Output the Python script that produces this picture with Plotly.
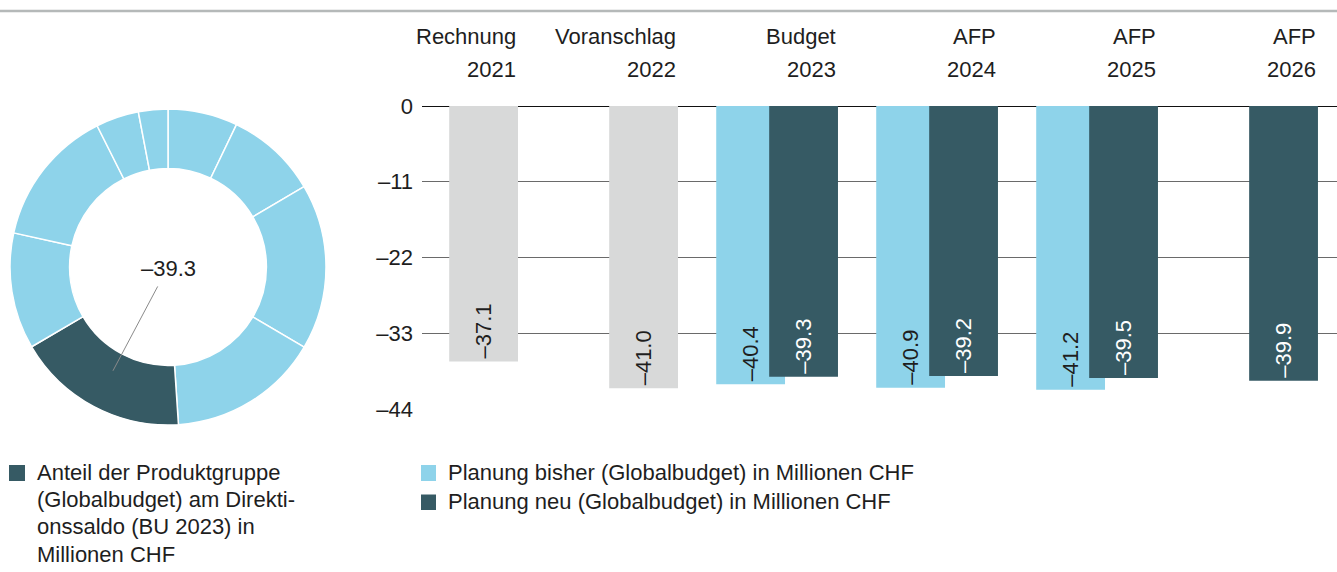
import math
import plotly.graph_objects as go

W, H = 1337, 572

# ---------------- data ----------------
cat_line1 = ["Rechnung", "Voranschlag", "Budget", "AFP", "AFP", "AFP"]
cat_line2 = ["2021", "2022", "2023", "2024", "2025", "2026"]
values_rechnung = [-37.1, -41.0, None, None, None, None]
values_bisher = [None, None, -40.4, -40.9, -41.2, None]
values_neu = [None, None, -39.3, -39.2, -39.5, -39.9]
y_tickvals = [0, -11, -22, -33, -44]
y_ticktext = ["0", "–11", "–22", "–33", "–44"]

donut_values = [15.9, 20.9, 37.8, 34.5, 39.3, 26.5, 31.5, 9.8, 6.7]
donut_highlight = 4
donut_label = "–39.3"

legend_donut_lines = ["Anteil der Produktgruppe", "(Globalbudget) am Direkti-",
                      "onssaldo (BU 2023) in", "Millionen CHF"]
legend_bar_labels = ["Planung bisher (Globalbudget) in Millionen CHF",
                     "Planung neu (Globalbudget) in Millionen CHF"]

# ---------------- style ----------------
LIGHT = "#8ED3EA"
DARK = "#365A64"
GRAY = "#D8D9D9"
TXT = "#1E1E1E"
FONT = "Liberation Sans, Arial, Helvetica, sans-serif"
FS = 22
BFS = 22


def px(x):
    return x / W


def py(y):
    return 1 - y / H


def fmt(v):
    return "" if v is None else "–" + f"{abs(v):.1f}"


xs = list(range(len(cat_line2)))
BW = 0.43
SHIFT = 0.331

fig = go.Figure()

bar_common = dict(textposition="inside", insidetextanchor="end", textangle=-90,
                  constraintext="none", hoverinfo="skip", showlegend=False,
                  xaxis="x", yaxis="y", width=BW, marker_line_width=0)

fig.add_trace(go.Bar(x=xs, y=values_rechnung, offset=-BW, marker_color=GRAY,
                     text=[fmt(v) for v in values_rechnung],
                     textfont=dict(color=TXT, size=BFS, family=FONT), **bar_common))
fig.add_trace(go.Bar(x=xs, y=values_bisher, offset=-BW - SHIFT, marker_color=LIGHT,
                     text=[fmt(v) for v in values_bisher],
                     textfont=dict(color=TXT, size=BFS, family=FONT), **bar_common))
fig.add_trace(go.Bar(x=xs, y=values_neu, offset=-BW, marker_color=DARK,
                     text=[fmt(v) for v in values_neu],
                     textfont=dict(color="white", size=BFS, family=FONT), **bar_common))

# donut
cx, cy, R = 168, 267, 158
fig.add_trace(go.Pie(
    values=donut_values, hole=0.623, sort=False, direction="clockwise", rotation=0,
    marker=dict(colors=[DARK if i == donut_highlight else LIGHT for i in range(len(donut_values))],
                line=dict(color="white", width=1.5)),
    textinfo="none", hoverinfo="skip", showlegend=False,
    domain=dict(x=[px(cx - R), px(cx + R)], y=[py(cy + R), py(cy - R)]),
))

# leader line toward the middle of the highlighted slice
total = sum(donut_values)
start = sum(donut_values[:donut_highlight]) / total
end = start + donut_values[donut_highlight] / total
th = math.radians((start + end) / 2 * 360)
r1, r2 = 22, 117.5
lx0, ly0 = cx + r1 * math.sin(th), cy - r1 * math.cos(th)
lx1, ly1 = cx + r2 * math.sin(th), cy - r2 * math.cos(th)

shapes = [
    dict(type="line", xref="paper", yref="paper", x0=0, x1=1, y0=py(11), y1=py(11),
         line=dict(color="#B5B9B9", width=2.5)),
    dict(type="line", xref="paper", yref="paper", x0=px(lx0), y0=py(ly0), x1=px(lx1), y1=py(ly1),
         line=dict(color="#8A8A8A", width=1)),
    dict(type="rect", xref="paper", yref="paper", x0=px(9), x1=px(25), y0=py(481), y1=py(465),
         fillcolor=DARK, line_width=0),
    dict(type="rect", xref="paper", yref="paper", x0=px(421), x1=px(436), y0=py(481), y1=py(465),
         fillcolor=LIGHT, line_width=0),
    dict(type="rect", xref="paper", yref="paper", x0=px(421), x1=px(436), y0=py(510), y1=py(494.5),
         fillcolor=DARK, line_width=0),
]

annotations = []
for i, (a, b) in enumerate(zip(cat_line1, cat_line2)):
    annotations.append(dict(x=i, xref="x", y=py(36.3), yref="paper", text=a, showarrow=False,
                            xanchor="right", yanchor="middle", font=dict(size=FS, color=TXT, family=FONT)))
    annotations.append(dict(x=i, xref="x", y=py(69.2), yref="paper", text=b, showarrow=False,
                            xanchor="right", yanchor="middle", font=dict(size=FS, color=TXT, family=FONT)))

annotations.append(dict(x=px(cx), y=py(268.5), xref="paper", yref="paper", text=donut_label,
                        showarrow=False, xanchor="center", yanchor="middle",
                        font=dict(size=FS, color=TXT, family=FONT)))

for k, line in enumerate(legend_donut_lines):
    annotations.append(dict(x=px(35), y=py(472.5 + 27.2 * k), xref="paper", yref="paper", text=line,
                            showarrow=False, xanchor="left", yanchor="middle",
                            font=dict(size=FS, color=TXT, family=FONT)))
for k, line in enumerate(legend_bar_labels):
    annotations.append(dict(x=px(446), y=py(472.5 + 29.3 * k), xref="paper", yref="paper", text=line,
                            showarrow=False, xanchor="left", yanchor="middle",
                            font=dict(size=FS, color=TXT, family=FONT)))

fig.update_layout(
    width=W, height=H, autosize=False,
    margin=dict(l=0, r=0, t=0, b=0, pad=0, autoexpand=False),
    paper_bgcolor="white", plot_bgcolor="white",
    barmode="overlay",
    font=dict(family=FONT, size=FS, color=TXT),
    xaxis=dict(domain=[px(422), 1], range=[-0.6, 5.119], visible=False, fixedrange=True,
               automargin=False),
    yaxis=dict(domain=[py(409), py(106)], range=[-44, 0], anchor="x", automargin=False,
               tickvals=y_tickvals, ticktext=y_ticktext, showgrid=True,
               gridcolor="#6A6A6A", gridwidth=1, zeroline=True, zerolinecolor="#111111",
               zerolinewidth=1.2, showline=False, ticks="", ticklabelstandoff=8,
               tickfont=dict(size=FS, color=TXT, family=FONT), fixedrange=True),
    shapes=shapes,
    annotations=annotations,
)

fig.write_html("out.html", config={"displayModeBar": False},
               post_script="document.body.style.margin='0px';")
